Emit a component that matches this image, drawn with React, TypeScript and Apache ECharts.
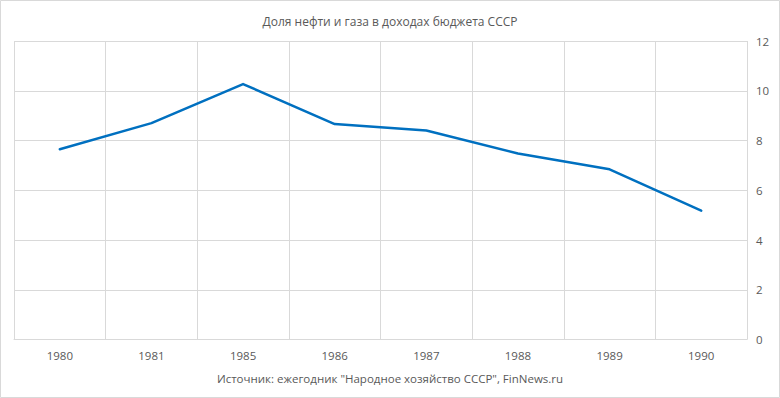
import React, { useEffect, useRef } from "react";
import * as echarts from "echarts";

const categories = ["1980", "1981", "1985", "1986", "1987", "1988", "1989", "1990"];
const shareValues = [7.65, 8.7, 10.27, 8.66, 8.4, 7.48, 6.84, 5.18];
const titleText = "Доля нефти и газа в доходах бюджета СССР";
const sourceText = "Источник: ежегодник \"Народное хозяйство СССР\", FinNews.ru";

export default function App() {
  const ref = useRef<HTMLDivElement>(null);
  useEffect(() => {
    document.body.style.margin = "0";
    if (!ref.current) return;
    const chart = echarts.init(ref.current, undefined, { renderer: "svg" });
    const font = "Open Sans, Noto Sans, sans-serif";
    chart.setOption({
      animation: false,
      backgroundColor: "#ffffff",
      textStyle: { fontFamily: font },
      title: {
        text: titleText,
        left: "center",
        top: 10,
        textStyle: { fontFamily: font, fontSize: 12, fontWeight: "normal", color: "#595959" },
      },
      graphic: [
        {
          type: "rect",
          shape: { x: 0.5, y: 0.5, width: 779, height: 397 },
          style: { fill: "none", stroke: "#d9d9d9", lineWidth: 1 },
          silent: true,
        },
        {
          type: "text",
          left: "center",
          top: 372,
          style: { text: sourceText, fontFamily: font, fontSize: 11.5, fill: "#595959" },
        },
      ],
      grid: { left: 14, right: 33, top: 41, bottom: 58.5, containLabel: false },
      xAxis: {
        type: "category",
        data: categories,
        boundaryGap: true,
        axisLine: { show: true, lineStyle: { color: "#d9d9d9", width: 1 } },
        axisTick: { show: false },
        axisLabel: { color: "#595959", fontSize: 11.5, fontFamily: font, margin: 10 },
        splitLine: { show: true, interval: 0, lineStyle: { color: "#d9d9d9", width: 1 } },
      },
      yAxis: {
        type: "value",
        position: "right",
        min: 0,
        max: 12,
        interval: 2,
        axisLine: { show: false },
        axisTick: { show: false },
        axisLabel: { color: "#595959", fontSize: 11.5, fontFamily: font, margin: 9 },
        splitLine: { show: true, lineStyle: { color: "#d9d9d9", width: 1 } },
      },
      series: [
        {
          type: "line",
          data: shareValues,
          showSymbol: false,
          symbol: "none",
          lineStyle: { color: "#0070c0", width: 2.5, join: "round", cap: "round" },
          itemStyle: { color: "#0070c0" },
        },
      ],
    });
    return () => chart.dispose();
  }, []);
  return <div ref={ref} style={{ width: 780, height: 398 }} />;
}
